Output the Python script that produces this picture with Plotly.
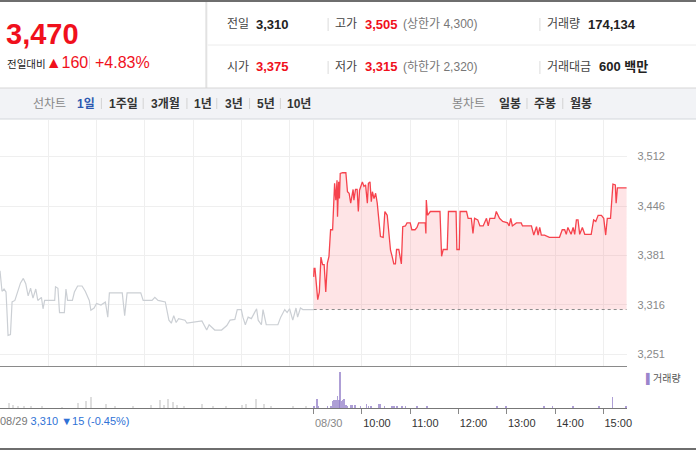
import plotly.graph_objects as go

W, H = 700, 450
FONT = "Liberation Sans, Noto Sans CJK KR, sans-serif"

# previous session (08/29), minutes from 09:00
prev_min = [0, 1, 2.5, 5, 7.5, 9, 10, 13, 15, 18.5, 22.5, 25.5, 29, 32, 35, 38, 41, 44.5,
            47, 51.5, 53.5, 55.5, 68, 69, 72, 74, 80, 82, 84, 90, 92.5, 96.5, 102, 106,
            111, 113, 117, 120, 125.5, 131, 134, 136, 152, 155, 158, 175, 178, 189, 192.5,
            196.5, 205.5, 210, 213, 216, 219, 222, 230, 232.5, 251, 255, 257, 260, 263,
            267, 275.5, 282, 286, 292, 295, 300, 302, 305, 308.5, 312.5, 319, 321, 325,
            327, 331, 334, 345.5, 349, 354, 357, 360, 364, 368, 370, 373.5, 376.5, 390]
prev_price = [3361, 3345, 3334, 3337, 3333, 3300, 3276, 3277, 3320, 3322, 3336, 3345, 3351,
              3344, 3328, 3338, 3325, 3337, 3322, 3326, 3311, 3322, 3322, 3340, 3338, 3306,
              3306, 3337, 3322, 3322, 3333, 3341, 3341, 3334, 3322, 3309, 3312, 3318, 3316,
              3320, 3300, 3332, 3332, 3302, 3332, 3332, 3322, 3322, 3326, 3322, 3320, 3296,
              3292, 3302, 3293, 3298, 3296, 3292, 3295, 3288, 3283, 3290, 3287, 3283, 3283,
              3289, 3296, 3297, 3310, 3310, 3300, 3290, 3300, 3298, 3311, 3296, 3290, 3310,
              3290, 3290, 3290, 3300, 3310, 3306, 3311, 3296, 3312, 3300, 3312, 3310, 3310]

# today (08/30), minutes from 09:00
today_min = [0, 0.5, 1.6, 3.3, 5, 7, 9, 11, 13, 15, 17, 19, 21, 23.5, 24.7, 26, 27.5, 29,
             29.6, 31, 32, 33, 36, 40, 42, 44, 46, 47, 49, 50, 52, 54, 55.5, 57, 58.5, 60.5,
             62.5, 64.5, 66.7, 68, 70, 71.6, 73, 75, 77, 79, 81, 83, 86.4, 88.5, 91.4, 93.4,
             95.5, 97.5, 99.6, 101.6, 103, 105.8, 108, 109, 110.7, 114, 116, 120, 122, 126,
             128.4, 130.5, 138.7, 139.5, 140, 141.5, 145, 157, 159, 161, 166, 167.5, 177,
             178, 181, 182, 190, 192, 196, 198, 200, 204, 206.6, 210.7, 214.8, 217, 219,
             225, 227, 231, 235, 241, 243, 245, 247, 252, 258, 259.6, 270.7, 273.6, 277,
             279, 281, 283, 287, 293, 305.6, 309, 312, 314, 316, 320, 322.5, 324.5, 326.6,
             328.6, 330.7, 334, 337, 345, 348, 350.7, 353.6, 357.7, 360.6, 363, 365, 369,
             372, 375, 376, 377.6, 389]
today_price = [3353, 3364, 3364, 3336, 3323, 3333, 3379, 3369, 3369, 3333, 3371, 3380, 3415,
               3415, 3439, 3476, 3454, 3480, 3432, 3478, 3456, 3489, 3490, 3490, 3465, 3463,
               3450, 3458, 3468, 3454, 3468, 3468, 3439, 3467, 3472, 3478, 3472, 3474, 3450,
               3476, 3478, 3452, 3465, 3456, 3463, 3450, 3428, 3406, 3405, 3439, 3434, 3408,
               3388, 3380, 3370, 3370, 3389, 3389, 3371, 3370, 3419, 3420, 3424, 3424, 3415,
               3415, 3418, 3424, 3424, 3410, 3454, 3434, 3439, 3439, 3380, 3389, 3389, 3439,
               3439, 3389, 3389, 3439, 3439, 3430, 3430, 3410, 3430, 3428, 3420, 3420, 3430,
               3420, 3430, 3430, 3439, 3430, 3426, 3424, 3420, 3430, 3420, 3424, 3424, 3420,
               3420, 3408, 3419, 3408, 3418, 3408, 3408, 3405, 3405, 3415, 3415, 3409, 3418,
               3409, 3418, 3409, 3428, 3428, 3409, 3418, 3409, 3409, 3428, 3426, 3434, 3434,
               3430, 3408, 3430, 3430, 3475, 3474, 3450, 3470, 3470]
prev_close = 3310

# volume (shares per minute)
prev_vol_min = [11, 16.5, 22, 30, 38.6, 52, 77, 96.6, 107.6, 113, 132.5, 143.5, 165.5, 187.6,
                198.7, 204, 209.6, 215, 220.7, 229, 251, 265, 281.5, 300.8, 306.3, 319,
                328.4, 336.7, 364, 380.8]
prev_vol = [2000, 1300, 900, 800, 600, 700, 400, 2000, 2700, 4300, 1600, 900, 700, 1300,
            3300, 1300, 3600, 2300, 1300, 700, 1700, 700, 900, 1300, 1700, 3700, 1700, 700,
            700, 700]
today_vol_min = [0, 4, 5.8, 17.3, 21.4, 23.5, 25.5, 27.6, 29.6, 31.7, 33, 34.6, 35.8, 37.9,
                 39.9, 42, 46, 48, 51, 58.4, 65.8, 67.9, 71.6, 81, 83, 88, 97.5, 99.6, 103.7,
                 110, 114, 128.4, 140.7, 228, 239, 286, 297, 322, 355, 371.5, 388]
today_vol = [700, 3600, 900, 900, 900, 2700, 3300, 3100, 4900, 3300, 14400, 2700, 3300, 3600,
             1300, 700, 1300, 1300, 1300, 900, 1700, 900, 700, 1700, 1700, 700, 700, 900, 700,
             700, 700, 700, 900, 900, 700, 900, 700, 700, 900, 4300, 900]

price_ticks = [3251, 3316, 3381, 3446, 3512]
grid_minutes = [60, 120, 180, 240, 300, 360, 390, 450, 510, 570, 630, 690, 750]
time_ticks = [390, 450, 510, 570, 630, 690, 750]
time_labels = ["<span style='color:#888'>08/30</span>", "10:00", "11:00", "12:00",
               "13:00", "14:00", "15:00"]

SESSION = 390  # minutes per session, today starts after the previous one


def px(x):
    return x / W


def py(y):
    return 1 - y / H


fig = go.Figure()

fig.add_trace(go.Scatter(x=prev_min, y=prev_price, mode="lines",
                         line=dict(color="#cbcfd4", width=1.2), hoverinfo="skip"))
today_x = [m + SESSION for m in today_min]
fig.add_trace(go.Scatter(x=[today_x[0], today_x[-1]], y=[prev_close, prev_close],
                         mode="lines", line=dict(color="#8c8c8c", width=1, dash="dot"),
                         hoverinfo="skip"))
fig.add_trace(go.Scatter(x=today_x, y=today_price, mode="lines", fill="tonexty",
                         fillcolor="rgba(248,120,130,0.2)",
                         line=dict(color="#f6434d", width=1.3), hoverinfo="skip"))

fig.add_trace(go.Bar(x=prev_vol_min, y=prev_vol, width=1.6, marker_color="#dedede",
                     marker_line_width=0, xaxis="x2", yaxis="y2", hoverinfo="skip"))
fig.add_trace(go.Bar(x=[m + SESSION for m in today_vol_min], y=today_vol, width=2.0,
                     marker_color="rgba(140,118,196,0.7)", marker_line_width=0,
                     xaxis="x2", yaxis="y2", hoverinfo="skip"))

xdom = [0, px(631)]
fig.update_layout(
    width=W, height=H, margin=dict(l=0, r=0, t=0, b=0),
    paper_bgcolor="white", plot_bgcolor="white", showlegend=False, bargap=0,
    font=dict(family=FONT, size=11, color="#333"),
    xaxis=dict(domain=xdom, range=[0, 780], anchor="y", tickvals=grid_minutes,
               showticklabels=False, ticks="", showgrid=True, gridcolor="#efefef",
               showline=True, linecolor="#8a8a8a", linewidth=1.2, zeroline=False),
    yaxis=dict(domain=[py(366), py(120)], range=[3235.7, 3559.4], side="right",
               tickvals=price_ticks, tickformat=",", showgrid=True, gridcolor="#efefef",
               tickfont=dict(color="#888", size=11), ticklabelstandoff=9,
               zeroline=False, showline=False),
    xaxis2=dict(domain=xdom, range=[0, 780], anchor="y2", matches="x",
                tickvals=time_ticks, ticktext=time_labels, ticks="outside", ticklen=5,
                tickcolor="#888", showgrid=False, showline=True, linecolor="#777",
                tickfont=dict(color="#333", size=11), ticklabelshift=15, zeroline=False),
    yaxis2=dict(domain=[py(408), py(367)], range=[0, 16500], visible=False),
)


def line(x0, y0, x1, y1, color, width=1):
    return dict(type="line", xref="paper", yref="paper", x0=px(x0), x1=px(x1),
                y0=py(y0), y1=py(y1), line=dict(color=color, width=width), layer="above")


def rect(x0, y0, x1, y1, color):
    return dict(type="rect", xref="paper", yref="paper", x0=px(x0), x1=px(x1),
                y0=py(y1), y1=py(y0), fillcolor=color, line_width=0, layer="below")


shapes = [
    rect(0, 0, 700, 2, "#6e6e6e"),
    rect(0, 88, 700, 119, "#f2f3f6"),
    line(207.5, 2, 207.5, 88, "#e2e2e2", 2),
    line(209, 45, 700, 45, "#ececec"),
    line(0, 88, 700, 88, "#d6d6d6"),
    line(0, 119, 700, 119, "#d4d7dc"),
    line(0, 449, 700, 449, "#6e6e6e", 2),
]
for sx, y0, y1 in [(330, 18, 31), (543, 18, 31), (330, 61, 74), (543, 61, 74),
                   (90, 56, 69)]:
    shapes.append(line(sx, y0, sx, y1, "#dcdcdc"))
for sx in [102, 144, 188, 218, 251, 282, 530, 566]:
    shapes.append(line(sx, 98, sx, 109, "#d3d3d3"))
fig.update_layout(shapes=shapes)

anns = []


def ann(x, y, text, size=12, color="#333", bold=False, anchor="left"):
    anns.append(dict(x=px(x), y=py(y), xref="paper", yref="paper", showarrow=False,
                     xanchor=anchor, yanchor="middle", text="<b>%s</b>" % text if bold else text,
                     font=dict(family=FONT, size=size, color=color)))


RED = "#f0101c"
ann(4, 34, "3,470", 29, RED, True)
ann(5, 62, "<span style='font-size:10.5px;color:#222'>전일대비</span>▲160", 16, RED)
ann(94, 62, "+4.83%", 16, RED)

ann(226, 24, "전일", 12, "#444")
ann(255, 24, "3,310", 13, "#222", True)
ann(335, 24, "고가", 12, "#444")
ann(365, 24, "3,505", 13, RED, True)
ann(403, 24, "(상한가 4,300)", 12, "#777")
ann(548, 24, "거래량", 12, "#444")
ann(589, 24, "174,134", 13, "#222", True)

ann(226, 67, "시가", 12, "#444")
ann(255, 67, "3,375", 13, RED, True)
ann(335, 67, "저가", 12, "#444")
ann(365, 67, "3,315", 13, RED, True)
ann(403, 67, "(하한가 2,320)", 12, "#777")
ann(548, 67, "거래대금", 12, "#444")
ann(600, 67, "600 백만", 13, "#222", True)

ann(31, 104, "선차트", 12, "#888")
ann(75, 104, "1일", 12, "#2d58b0", True)
for tx, tt in [(108, "1주일"), (150, "3개월"), (193, "1년"), (224, "3년"), (256, "5년"),
               (287, "10년"), (500, "일봉"), (535, "주봉"), (571, "월봉")]:
    ann(tx, 104, tt, 12, "#333", True)
ann(453, 104, "봉차트", 12, "#888")

ann(648, 379, "<span style='color:#9a86cc'>▌</span>거래량", 10, "#555")
ann(-2, 421, "08/29 <span style='color:#2f72d6'>3,310 ▼15 (-0.45%)</span>", 11, "#777")
fig.update_layout(annotations=anns)

fig.write_html("out.html", config={"displayModeBar": False},
               post_script="document.body.style.margin='0';"
               "document.body.style.overflow='hidden';")
